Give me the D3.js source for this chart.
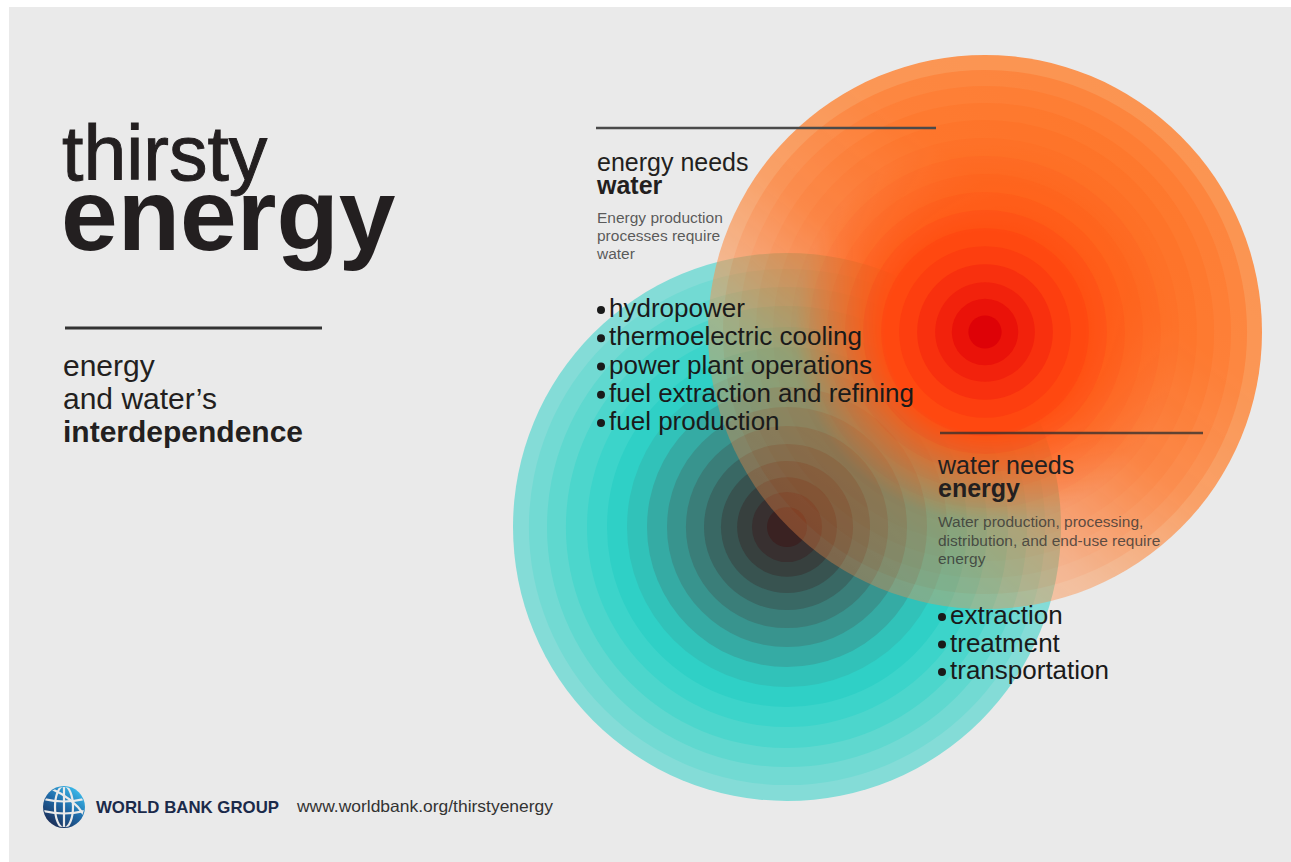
<!DOCTYPE html>
<html><head><meta charset="utf-8">
<script src="https://cdn.jsdelivr.net/npm/d3@7"></script>
<style>
html,body{margin:0;padding:0;background:#fff;}
svg{display:block;}
text{font-family:"Liberation Sans",Arial,Helvetica,sans-serif;}
</style></head><body>
<svg id="chart" width="1291" height="862"></svg>
<script>
// ---------------- data ----------------
const titleLines = ["thirsty", "energy"];
const subtitleLines = ["energy", "and water\u2019s", "interdependence"];
const energyNeedsHeading = ["energy needs", "water"];
const energyNeedsDesc = ["Energy production", "processes require", "water"];
const energyNeedsBullets = ["hydropower", "thermoelectric cooling", "power plant operations", "fuel extraction and refining", "fuel production"];
const waterNeedsHeading = ["water needs", "energy"];
const waterNeedsDesc = ["Water production, processing,", "distribution, and end-use require", "energy"];
const waterNeedsBullets = ["extraction", "treatment", "transportation"];
const footerLabels = ["WORLD BANK GROUP", "www.worldbank.org/thirstyenergy"];

// ring radius as % of the circle's outer radius (outer -> inner)
const orangeRingLevels = [100, 94.6, 88.8, 82.7, 76.5, 70, 63.5, 57, 50.5, 44, 37.5, 31, 24.5, 18, 12, 6];
const orangeRingColors = ["#fc8f48","#fe7e32","#ff7628","#ff7020","#ff6b1b","#ff6718","#ff6216","#ff5e14","#ff5812","#ff5011","#ff4810","#fd3e0f","#f8300e","#f2220c","#ea1209","#de0207"];
const tealRingLevels = [100, 94.2, 87.6, 80.7, 73, 65.7, 58.4, 51.1, 43.8, 36.9, 30.3, 24.1, 18.2, 12.8, 7.3];
const tealRingColors = ["#84dcd7","#72dad3","#5fd8cf","#4cd6cc","#3cd4ca","#2fd0c6","#31c2b9","#35aba4","#38948e","#3a7e79","#396864","#385350","#37403e","#383030","#3a2222"];

// ---------------- layout ----------------
const W = 1291, H = 862;
const orangeC = {cx: 985, cy: 332, r: 277};
const tealC = {cx: 787, cy: 527, r: 274};

const svg = d3.select("#chart");
svg.append("rect").attr("width", W).attr("height", H).attr("fill", "#ffffff");
svg.append("rect").attr("x", 9).attr("y", 7).attr("width", W - 9).attr("height", H - 7).attr("fill", "#eaeaea");

const defs = svg.append("defs");

// mask: the orange's outer rings turn translucent towards the lower left
const mg = defs.append("linearGradient").attr("id", "fadeGrad").attr("gradientUnits", "userSpaceOnUse")
  .attr("x1", 1180).attr("y1", 90).attr("x2", 790).attr("y2", 600);
[[0, "#f2f2f2"], [0.3, "#ebebeb"], [0.5, "#cccccc"], [0.6, "#a3a3a3"], [0.7, "#7a7a7a"], [0.8, "#666666"], [1, "#4f4f4f"]]
  .forEach(s => mg.append("stop").attr("offset", s[0]).attr("stop-color", s[1]));
const rg = defs.append("radialGradient").attr("id", "coreGrad").attr("gradientUnits", "userSpaceOnUse")
  .attr("cx", orangeC.cx).attr("cy", orangeC.cy).attr("r", 200);
[[0, 1], [0.5, 1], [0.95, 0], [1, 0]]
  .forEach(s => rg.append("stop").attr("offset", s[0]).attr("stop-color", "#fff").attr("stop-opacity", s[1]));
const mask = defs.append("mask").attr("id", "orangeMask").attr("maskUnits", "userSpaceOnUse")
  .attr("x", 0).attr("y", 0).attr("width", W).attr("height", H);
mask.append("rect").attr("width", W).attr("height", H).attr("fill", "url(#fadeGrad)");
mask.append("circle").attr("cx", orangeC.cx).attr("cy", orangeC.cy).attr("r", 200).attr("fill", "url(#coreGrad)");

const rO = d3.scaleLinear().domain([0, 100]).range([0, orangeC.r]);
const rT = d3.scaleLinear().domain([0, 100]).range([0, tealC.r]);

const art = svg.append("g");

// teal disks (under)
art.append("g").selectAll("circle").data(tealRingLevels).join("circle")
  .attr("cx", tealC.cx).attr("cy", tealC.cy)
  .attr("r", d => rT(d)).attr("fill", (d, i) => tealRingColors[i]);

// orange disks (over, translucent through the mask)
art.append("g").attr("mask", "url(#orangeMask)")
  .selectAll("circle").data(orangeRingLevels).join("circle")
  .attr("cx", orangeC.cx).attr("cy", orangeC.cy)
  .attr("r", d => rO(d)).attr("fill", (d, i) => orangeRingColors[i]);

// ---------------- left title ----------------
svg.append("text").attr("x", 62).attr("y", 180).attr("font-size", 77).attr("fill", "#231f20")
  .attr("stroke", "#231f20").attr("stroke-width", 1).text(titleLines[0]);
svg.append("text").attr("x", 61).attr("y", 250).attr("font-size", 102).attr("font-weight", 700).attr("fill", "#231f20").text(titleLines[1]);
svg.append("line").attr("x1", 65).attr("x2", 322).attr("y1", 328).attr("y2", 328).attr("stroke", "#333").attr("stroke-width", 3);

const subY = d3.scaleLinear().domain([0, 2]).range([376, 442]);
svg.append("g").selectAll("text").data(subtitleLines).join("text")
  .attr("x", 63).attr("y", (d, i) => subY(i))
  .attr("font-size", 30).attr("font-weight", (d, i) => i === 2 ? 700 : 400)
  .attr("fill", "#231f20").text(d => d);

// ---------------- energy needs water ----------------
svg.append("line").attr("x1", 596).attr("x2", 936).attr("y1", 128).attr("y2", 128).attr("stroke", "#4a4a4a").attr("stroke-width", 2.5);
svg.append("text").attr("x", 597).attr("y", 171).attr("font-size", 25).attr("fill", "#231f20").text(energyNeedsHeading[0]);
svg.append("text").attr("x", 597).attr("y", 194).attr("font-size", 25).attr("font-weight", 700).attr("fill", "#231f20").text(energyNeedsHeading[1]);
const descY1 = d3.scaleLinear().domain([0, 2]).range([223, 259]);
svg.append("g").selectAll("text").data(energyNeedsDesc).join("text")
  .attr("x", 597).attr("y", (d, i) => descY1(i))
  .attr("font-family", "Roboto, 'Liberation Sans', sans-serif").attr("font-size", 15.5).attr("font-weight", 500)
  .attr("fill", "#333").attr("fill-opacity", 0.8).text(d => d);

const bulY1 = d3.scaleLinear().domain([0, energyNeedsBullets.length - 1]).range([317, 430]);
const bl1 = svg.append("g").selectAll("g").data(energyNeedsBullets).join("g")
  .attr("transform", (d, i) => `translate(0,${bulY1(i)})`);
bl1.append("circle").attr("cx", 601).attr("cy", -7).attr("r", 4).attr("fill", "#1a1a1a");
bl1.append("text").attr("x", 609).attr("y", 0).attr("font-size", 26).attr("fill", "#1a1a1a").text(d => d);

// ---------------- water needs energy ----------------
svg.append("line").attr("x1", 940).attr("x2", 1203).attr("y1", 433).attr("y2", 433).attr("stroke", "#2e2e2e").attr("stroke-opacity", 0.75).attr("stroke-width", 2.5);
svg.append("text").attr("x", 938).attr("y", 474).attr("font-size", 25).attr("fill", "#231f20").text(waterNeedsHeading[0]);
svg.append("text").attr("x", 938).attr("y", 497).attr("font-size", 25).attr("font-weight", 700).attr("fill", "#231f20").text(waterNeedsHeading[1]);
const descY2 = d3.scaleLinear().domain([0, 2]).range([527, 564]);
svg.append("g").selectAll("text").data(waterNeedsDesc).join("text")
  .attr("x", 938).attr("y", (d, i) => descY2(i))
  .attr("font-family", "Roboto, 'Liberation Sans', sans-serif").attr("font-size", 15.5).attr("font-weight", 500)
  .attr("fill", "#333").attr("fill-opacity", 0.8).text(d => d);

const bulY2 = d3.scaleLinear().domain([0, waterNeedsBullets.length - 1]).range([624, 679]);
const bl2 = svg.append("g").selectAll("g").data(waterNeedsBullets).join("g")
  .attr("transform", (d, i) => `translate(0,${bulY2(i)})`);
bl2.append("circle").attr("cx", 942).attr("cy", -7).attr("r", 4).attr("fill", "#1a1a1a");
bl2.append("text").attr("x", 950).attr("y", 0).attr("font-size", 26).attr("fill", "#1a1a1a").text(d => d);

// ---------------- footer ----------------
const grad = defs.append("linearGradient").attr("id", "globeGrad")
  .attr("x1", "0.85").attr("y1", "0.05").attr("x2", "0.2").attr("y2", "0.95");
grad.append("stop").attr("offset", "0").attr("stop-color", "#3cc0f0");
grad.append("stop").attr("offset", "0.5").attr("stop-color", "#1f6aa8");
grad.append("stop").attr("offset", "1").attr("stop-color", "#1b2c55");
defs.append("clipPath").attr("id", "globeClip").append("circle").attr("cx", 0).attr("cy", 0).attr("r", 20);

const globe = svg.append("g").attr("transform", "translate(64,807)");
globe.append("circle").attr("r", 21).attr("fill", "url(#globeGrad)");
const gl = globe.append("g").attr("clip-path", "url(#globeClip)").attr("fill", "none").attr("stroke", "#eaeaea").attr("stroke-width", 2.2);
gl.append("ellipse").attr("rx", 9).attr("ry", 21);
gl.append("line").attr("x1", 0).attr("x2", 0).attr("y1", -21).attr("y2", 21);
gl.append("path").attr("d", "M-21,-8 Q0,-3 21,-8");
gl.append("path").attr("d", "M-21,4 Q0,9 21,4");
gl.append("path").attr("d", "M-12,-18 Q10,-8 20,8");

svg.append("text").attr("x", 96).attr("y", 813).attr("font-size", 17).attr("font-weight", 700)
  .attr("fill", "#1b2a4a").attr("textLength", 183).attr("lengthAdjust", "spacingAndGlyphs").text(footerLabels[0]);
svg.append("text").attr("x", 297).attr("y", 812).attr("font-size", 16.5)
  .attr("fill", "#333").attr("textLength", 256).attr("lengthAdjust", "spacingAndGlyphs").text(footerLabels[1]);
</script>
</body></html>
